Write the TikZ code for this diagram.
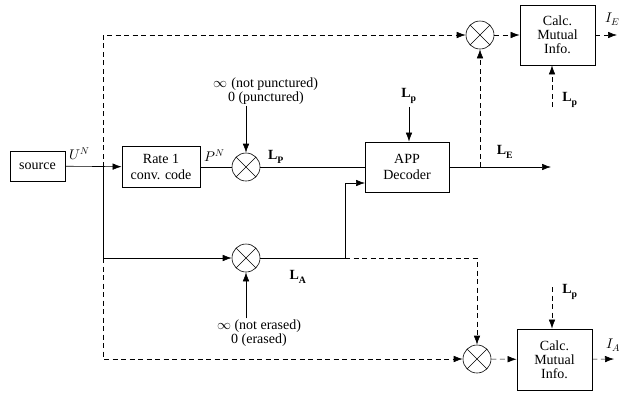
\documentclass[tikz,border=0pt]{standalone}
\usepackage{fontspec}
\setmainfont{Liberation Serif}
\usepackage{unicode-math}
\setmathfont{Latin Modern Math}
\usetikzlibrary{arrows.meta}
\begin{document}
\begin{tikzpicture}[x=1pt,y=-1pt,line width=0.6pt,>={Latex[length=9pt,width=6.5pt]},
	every node/.style={font=\fontsize{14}{16}\selectfont},
	blk/.style={draw,line width=0.8pt,inner sep=1pt,align=center},
	mult/.style={draw,circle,minimum size=28pt,inner sep=0pt,
		path picture={\draw (path picture bounding box.north west)--(path picture bounding box.south east)
			(path picture bounding box.north east)--(path picture bounding box.south west);}},
	dsh/.style={dash pattern=on 5pt off 3.5pt}]
	\useasboundingbox (0,0) rectangle (621,392);
	% blocks
	\node[blk,minimum width=55pt,minimum height=30pt] (src) at (37.5,166) {source};
	\node[blk,minimum width=78pt,minimum height=41pt] (conv) at (161,167) {Rate 1\\conv. code};
	\node[mult] (mulP) at (246,167) {};
	\node[blk,minimum width=84pt,minimum height=50pt] (app) at (407,167) {APP\\Decoder};
	\node[mult] (mulA) at (246,258) {};
	\node[mult] (mulE) at (480,35) {};
	\node[mult] (mulAE) at (477,359) {};
	\node[blk,minimum width=75pt,minimum height=60pt] (calcE) at (557.5,35) {Calc.\\[-2pt]Mutual\\[-2pt]Info.};
	\node[blk,minimum width=75pt,minimum height=61pt] (calcA) at (554.5,359.5) {Calc.\\[-2pt]Mutual\\[-2pt]Info.};
	% points
	\coordinate (jn) at (103,167);
	\coordinate (jb) at (103,258);
	\coordinate (ja) at (345,258);
	\coordinate (appin) at (365,183);
	\coordinate (jE) at (480,167);
	\coordinate (outE) at (551,167);
	\coordinate (iE) at (617,35);
	\coordinate (iA) at (614,359);
	\coordinate (lpE) at (552,107);
	\coordinate (lpA) at (552,287);
	% labels
	\node (un) at (80,154) {$U^N$};
	\node (pn) at (215,156) {$P^N$};
	\node (lP) at (276,157) {$\mathbf{L_P}$};
	\node (lpD) at (409,96) {$\mathbf{L_p}$};
	\node (lE) at (505,152) {$\mathbf{L_E}$};
	\node (lA) at (298,277) {$\mathbf{L_A}$};
	\node (lpEt) at (570,100) {$\mathbf{L_p}$};
	\node (lpAt) at (570,292) {$\mathbf{L_p}$};
	\node[anchor=east,inner sep=0.5pt] (iEt) at (621,19) {$I_E$};
	\node[anchor=east,inner sep=0.5pt] (iAt) at (621,345) {$I_A$};
	\node[align=center,inner sep=1pt] (punc) at (266,91) {$\infty$ (not punctured)\\[-2pt]0 (punctured)};
	\node[align=center,inner sep=1pt] (eras) at (259,333) {$\infty$ (not erased)\\[-2pt]0 (erased)};
	% solid paths
	\draw[->] (src) -- (conv);
	\draw (conv) -- (mulP) -- (app);
	\draw[->] (punc.south -| mulP) -- (mulP);
	\draw[->] (jn) |- (mulA);
	\draw (mulA) -- (ja);
	\draw[->] (ja) |- (appin);
	\draw[->] (eras.north -| mulA) -- (mulA);
	\draw[->] (lpD) -- (lpD |- app.north);
	\draw[->] (app) -- (outE);
	% dashed paths
	\draw[dsh,->] (jn) |- (mulE);
	\draw[dsh,->] (mulE) -- (calcE);
	\draw[dsh,->] (calcE) -- (iE);
	\draw[dsh,->] (jE) -- (mulE);
	\draw[dsh,->] (lpE) -- (lpE |- calcE.south);
	\draw[dsh,->] (jb) |- (mulAE);
	\draw[dsh,->] (ja) -| (mulAE);
	\draw[dsh,->] (mulAE) -- (calcA);
	\draw[dsh,->] (calcA) -- (iA);
	\draw[dsh,->] (lpA) -- (lpA |- calcA.north);
\end{tikzpicture}
\end{document}
